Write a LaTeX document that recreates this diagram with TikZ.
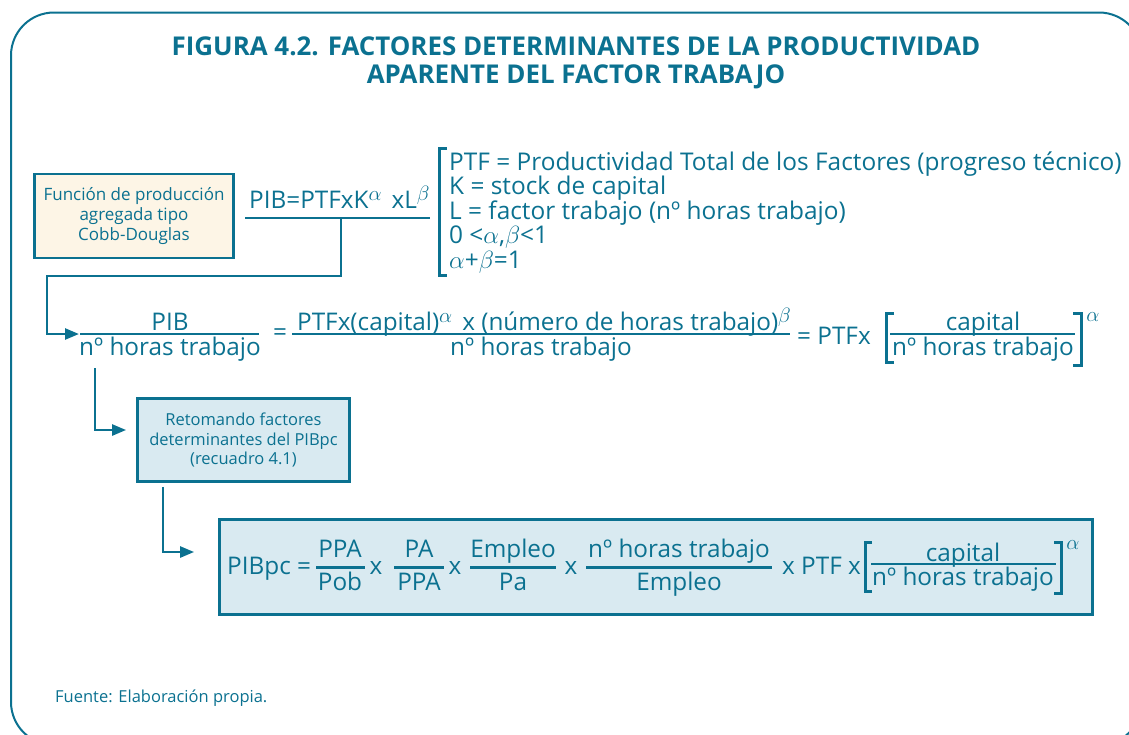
\documentclass[tikz,border=0pt]{standalone}
\usepackage{fontspec}
\setmainfont{Open Sans}
\usepackage{tikz}
\usetikzlibrary{arrows.meta}
\definecolor{petrol}{HTML}{0B7190}
\definecolor{crema}{HTML}{FDF5E6}
\definecolor{celeste}{HTML}{D9EAF1}
\newcommand{\expo}[1]{\raisebox{0.3em}{\fontsize{22}{22}\selectfont$#1$}}

\begin{document}
\begin{tikzpicture}[x=1pt,y=-1pt,>={Triangle[length=14pt,width=11pt]},
    conn/.style={draw=petrol,line width=2.5pt,->},
    linea/.style={draw=petrol,line width=2.5pt},
    corchete/.style={draw=petrol,line width=3pt},
    caja/.style={draw=petrol,line width=2.8pt,rectangle},
    txt/.style={text=petrol,inner sep=0pt,anchor=base,font=\fontsize{24.3}{25}\selectfont},
    lista/.style={text=petrol,inner sep=0pt,anchor=base west,font=\fontsize{24.4}{25}\selectfont},
    chico/.style={text=petrol,inner sep=0pt,align=center,font=\fontsize{17}{20}\selectfont},
    titulo/.style={text=petrol,inner sep=0pt,anchor=base,font=\fontsize{25.9}{28}\selectfont\bfseries}]
            \useasboundingbox (0,0) rectangle (1129,734);
            \clip (0,0) rectangle (1129,734);
            \draw [petrol,line width=2pt,rounded corners=43pt] (11,12.5) rectangle (1142,745);
            % titulo
            \node [titulo] (tit1) at (576,55) {FIGURA 4.2. FACTORES DETERMINANTES DE LA PRODUCTIVIDAD};
            \node [titulo] (tit2) at (576,83) {APARENTE DEL FACTOR TRABAJO};
            % funcion de produccion
            \node [caja,fill=crema,minimum width=199pt,minimum height=84pt,chico] (cobb) at (134,216) {Función de producción\\agregada tipo\\Cobb-Douglas};
            \node [txt,anchor=base west] (prod) at (249,208) {PIB=PTFxK\expo{\alpha}\hspace{10pt}xL\expo{\beta}};
            \draw [linea] (245,218) -- (430,218);
            \coordinate (split) at (341,218);
            \draw [corchete] (447,148) -- (439,148) -- (439,275) -- (447,275);
            \node [lista] (ptf) at (449,170) {PTF = Productividad Total de los Factores (progreso técnico)};
            \node [lista] (kap) at (449,194.5) {K = stock de capital};
            \node [lista] (lab) at (449,219) {L = factor trabajo (nº horas trabajo)};
            \node [lista] (rango) at (449,243.5) {0 <$\alpha$,$\beta$<1};
            \node [lista] (suma) at (449,268) {$\alpha$+$\beta$=1};
            % productividad aparente
            \node [txt] (pib) at (170,330) {PIB};
            \draw [linea] (80,334) -- (259,334);
            \coordinate (bar1) at (79,334);
            \node [txt] (horas1) at (170,355) {nº horas trabajo};
            \node [txt] (igual1) at (280,340) {=};
            \node [txt] (ptfcap) at (544,330) {PTFx(capital)\expo{\alpha}\hspace{10pt}x (número de horas trabajo)\expo{\beta}};
            \draw [linea] (292,334) -- (790,334);
            \node [txt] (horas2) at (541,355) {nº horas trabajo};
            \node [txt,anchor=base west] (ptf2) at (797,344) {= PTFx};
            \draw [corchete] (894,313) -- (886,313) -- (886,362) -- (894,362);
            \node [txt] (cap1) at (983,330) {capital};
            \draw [linea] (890,334) -- (1075,334);
            \node [txt] (horas3) at (983,355) {nº horas trabajo};
            \draw [corchete] (1073,313) -- (1081,313) -- (1081,365) -- (1073,365);
            \node [txt,font=\fontsize{22}{24}\selectfont] (alfa1) at (1093,321) {$\alpha$};
            % recuadro 4.1
            \node [caja,fill=celeste,minimum width=212pt,minimum height=83pt,chico,font=\fontsize{16.5}{19.5}\selectfont] (retoma) at (243.5,440) {Retomando factores\\determinantes del PIBpc\\(recuadro 4.1)};
            \node [caja,fill=celeste,minimum width=873pt,minimum height=95pt] (pibpc) at (656,567) {};
            \node [txt,anchor=base west] (pibpc1) at (227,574) {PIBpc =};
            \node [txt] (ppa1) at (340,557) {PPA};
            \draw [linea] (316,567.5) -- (365,567.5);
            \node [txt] (pob) at (340,590) {Pob};
            \node [txt] (por1) at (376,574) {x};
            \node [txt] (pa1) at (419,557) {PA};
            \draw [linea] (394,567.5) -- (444,567.5);
            \node [txt] (ppa2) at (419,590) {PPA};
            \node [txt] (por2) at (455,574) {x};
            \node [txt] (emp1) at (513,557) {Empleo};
            \draw [linea] (470,567.5) -- (556,567.5);
            \node [txt] (pa2) at (513,590) {Pa};
            \node [txt] (por3) at (571,574) {x};
            \node [txt] (horas4) at (679,557) {nº horas trabajo};
            \draw [linea] (586,567.5) -- (772,567.5);
            \node [txt] (emp2) at (679,590) {Empleo};
            \node [txt,anchor=base west] (ptf3) at (782,574) {x PTF x};
            \draw [corchete] (872,542) -- (865,542) -- (865,591) -- (872,591);
            \node [txt] (cap2) at (963,561.5) {capital};
            \draw [linea] (871,564) -- (1056,564);
            \node [txt] (horas5) at (963,585) {nº horas trabajo};
            \draw [corchete] (1054,542) -- (1061,542) -- (1061,593) -- (1054,593);
            \node [txt,font=\fontsize{22}{24}\selectfont] (alfa2) at (1073,549) {$\alpha$};
            % flechas
            \draw [conn] (split) |- (47,276) |- (bar1);
            \draw [conn] ([xshift=16pt,yshift=-7pt]horas1.south west) |- ([xshift=-10pt,yshift=10pt]retoma.west);
            \draw [conn] ([xshift=27pt,yshift=-4pt]retoma.south west) |- ([xshift=-24pt,yshift=15pt]pibpc.west);
            \node [text=petrol,inner sep=0pt,anchor=base west,font=\fontsize{16.5}{20}\selectfont] (fuente) at (55,702) {Fuente: Elaboración propia.};
        \end{tikzpicture}
\end{document}
